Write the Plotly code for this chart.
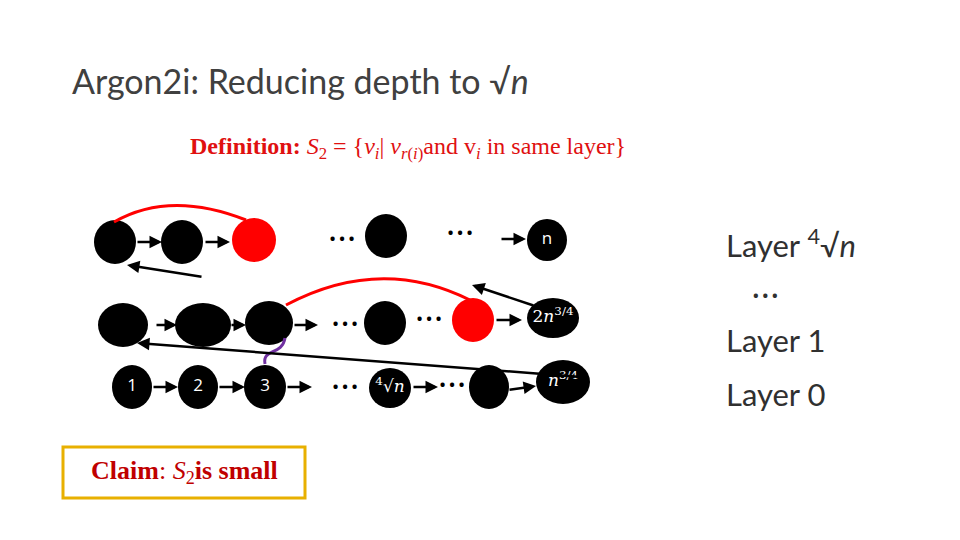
import plotly.graph_objects as go

# nodes: x, y, rx, ry, colour, label
node_x = [115, 182, 254, 386, 547, 123, 203, 269, 385, 473, 553, 132, 198, 265, 390, 489, 563]
node_y = [242, 242, 240, 236, 240, 325, 325, 323, 323, 320, 318, 387, 387, 387, 388, 387, 382]
node_rx = [21, 21, 22, 21, 20, 25, 28, 24, 21, 21, 26, 20, 20, 21, 21, 20, 27]
node_ry = [22, 22, 22, 22, 21, 22, 22, 22, 22, 22, 20, 22, 22, 22, 20, 22, 22]
node_col = ["black", "black", "red", "black", "black", "black", "black", "black", "black", "red",
            "black", "black", "black", "black", "black", "black", "black"]
node_lbl = ["", "", "", "", "n", "", "", "", "", "", "2<i>n</i><sup>3/4</sup>",
            "1", "2", "3", "<sup>4</sup>√<i>n</i>", "", "<i>n</i><sup>3/4</sup>"]
lbl_font = ["Open Sans"] * 10 + ["DejaVu Serif"] + ["Open Sans"] * 3 + ["DejaVu Serif"] * 3

# dots between nodes
dot_x = [342, 460, 345, 429, 345, 452]
dot_y = [240, 234, 325, 320, 388, 386]

# arrows: tail -> head
arr_tail = [(136, 242), (204, 242), (500, 239), (203, 277), (155, 325), (230, 325), (293, 325),
            (495, 320), (535, 306), (582, 377), (152, 387), (218, 387), (286, 387), (412, 387),
            (508, 390)]
arr_head = [(162, 242), (230, 242), (526, 239), (127, 265), (177, 325), (246, 325), (318, 325),
            (522, 320), (472, 285), (137, 343), (178, 387), (245, 387), (312, 387), (438, 387),
            (536, 386)]

fig = go.Figure()
shapes = []
for x, y, rx, ry, c in zip(node_x, node_y, node_rx, node_ry, node_col):
    shapes.append(dict(type="circle", x0=x - rx, x1=x + rx, y0=y - ry, y1=y + ry,
                       fillcolor=c, line=dict(width=0), layer="below"))
# red dependency curves and purple squiggle
shapes.append(dict(type="path", path="M 114 222 Q 170 190 246 220", line=dict(color="red", width=3)))
shapes.append(dict(type="path", path="M 286 305 Q 380 255 470 300", line=dict(color="red", width=3)))
shapes.append(dict(type="path", path="M 265 364 C 262 348, 282 356, 285 338",
                   line=dict(color="#7030a0", width=3)))
# claim box
shapes.append(dict(type="rect", x0=63, x1=305, y0=447, y1=498, line=dict(color="#e8b000", width=3)))

fig.add_trace(go.Scatter(x=dot_x, y=dot_y, mode="text", text=["<b>• • •</b>"] * len(dot_x),
                         textfont=dict(size=15, color="black"), hoverinfo="skip"))
fig.add_trace(go.Scatter(x=node_x, y=node_y, mode="text", text=node_lbl,
                         textfont=dict(size=17, color="white", family=lbl_font),
                         hoverinfo="skip"))

ann = []
for (tx, ty), (hx, hy) in zip(arr_tail, arr_head):
    ann.append(dict(x=hx, y=hy, ax=tx, ay=ty, xref="x", yref="y", axref="x", ayref="y",
                    showarrow=True, arrowhead=2, arrowsize=1, arrowwidth=2.5,
                    arrowcolor="black", text=""))
ann += [
    dict(x=70, y=80, text="Argon2i: Reducing depth to √<i>n</i>", xanchor="left", showarrow=False,
         font=dict(size=34, color="#404040", family="Lato")),
    dict(x=188, y=148, xanchor="left", showarrow=False,
         text="<b>Definition:</b> <i>S</i><sub>2</sub> = {<i>v<sub>i</sub></i>| <i>v</i><sub><i>r</i>(<i>i</i>)</sub>and v<sub><i>i</i></sub> in same layer}",
         font=dict(size=24, color="#e01010", family="Liberation Serif")),
    dict(x=724, y=243, xanchor="left", showarrow=False, text="Layer <sup>4</sup>√<i>n</i>",
         font=dict(size=31, color="#303030", family="Lato")),
    dict(x=765, y=295, showarrow=False, text="<b>• • •</b>", font=dict(size=15, color="#303030")),
    dict(x=724, y=340, xanchor="left", showarrow=False, text="Layer 1",
         font=dict(size=31, color="#303030", family="Lato")),
    dict(x=724, y=394, xanchor="left", showarrow=False, text="Layer 0",
         font=dict(size=31, color="#303030", family="Lato")),
    dict(x=184, y=472, showarrow=False, text="<b>Claim</b>: <i>S</i><sub>2</sub><b>is small</b>",
         font=dict(size=26, color="#c00000", family="Liberation Serif")),
]

# page has an 8px body margin, so shift the ranges to keep pixel positions
fig.update_layout(
    width=960, height=540, margin=dict(l=0, r=0, t=0, b=0),
    paper_bgcolor="white", plot_bgcolor="white", showlegend=False,
    shapes=shapes, annotations=ann,
    xaxis=dict(range=[8, 968], visible=False, fixedrange=True),
    yaxis=dict(range=[548, 8], visible=False, fixedrange=True),
)
fig.write_html("out.html")
